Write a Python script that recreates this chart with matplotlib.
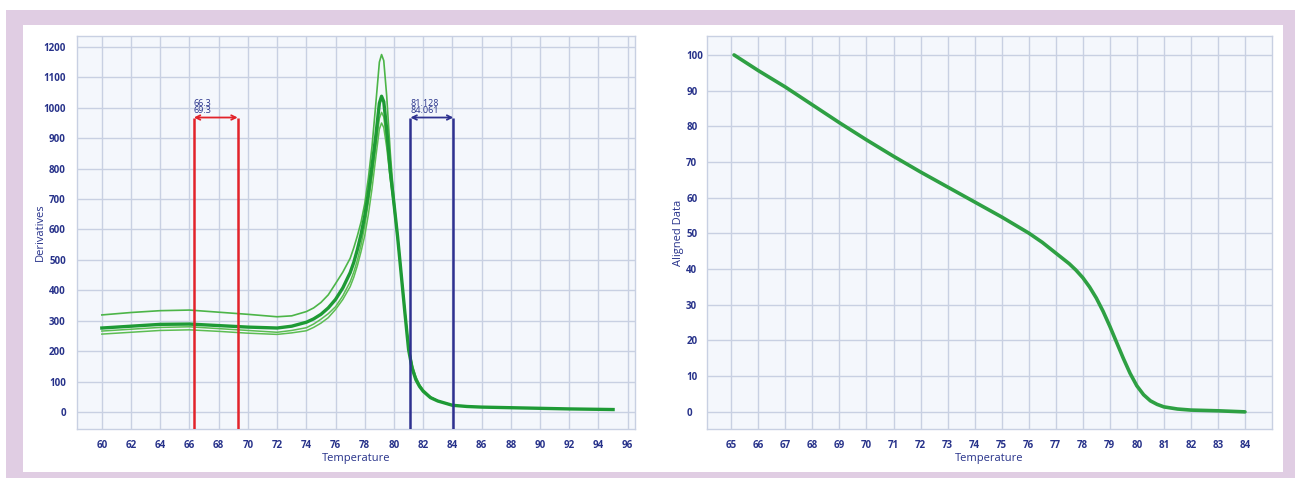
import matplotlib
matplotlib.use("Agg")
import matplotlib.pyplot as plt
from matplotlib.patches import Rectangle

# ---------------- data ----------------
temps = [60, 62, 64, 66, 68, 70, 72, 73, 74, 74.5, 75, 75.5, 76, 76.5, 77, 77.25,
         77.5, 77.75, 78, 78.25, 78.5, 78.75, 79.0, 79.15, 79.3, 79.5, 79.75, 80,
         80.25, 80.5, 80.75, 81, 81.25, 81.5, 81.75, 82, 82.5, 83, 84, 85, 86, 88,
         90, 92, 95]

deriv_a = [319, 327, 333, 335, 328, 321, 313, 316, 330, 342, 360, 385, 422, 460,
           505, 540, 580, 625, 685, 770, 875, 1010, 1150, 1175, 1155, 1040, 850, 695,
           580, 455, 330, 210, 145, 108, 85, 68, 48, 36, 22, 18, 16, 14, 12, 10, 8]
deriv_b = [276, 282, 288, 289, 284, 279, 276, 282, 295, 306, 321, 342, 370, 408,
           458, 492, 535, 585, 645, 720, 810, 905, 1015, 1038, 1020, 930, 790, 685,
           575, 450, 325, 205, 142, 106, 84, 68, 47, 36, 22, 18, 16, 14, 12, 10, 8]
deriv_c = [266, 272, 278, 280, 274, 268, 262, 268, 277, 289, 305, 323, 346, 382,
           428, 460, 500, 550, 612, 690, 775, 870, 965, 985, 970, 895, 775, 680,
           570, 450, 328, 212, 150, 112, 88, 71, 49, 37, 22, 18, 16, 14, 12, 10, 8]
deriv_d = [256, 262, 268, 270, 265, 259, 255, 260, 267, 278, 292, 310, 337, 370,
           412, 443, 482, 528, 580, 650, 735, 835, 930, 950, 935, 870, 765, 670,
           565, 448, 330, 218, 155, 116, 90, 73, 50, 37, 22, 18, 16, 14, 12, 10, 8]

red_bounds = [66.3, 69.3]
blue_bounds = [81.128, 84.061]
marker_level = 968

aligned_temps = [65.1, 66, 67, 68, 69, 70, 71, 72, 73, 74, 75, 76, 76.5, 77, 77.5,
                 77.75, 78, 78.25, 78.5, 78.75, 79, 79.25, 79.5, 79.75, 80, 80.25,
                 80.5, 80.75, 81, 81.5, 82, 83, 84]
aligned_vals = [100, 95.6, 91, 86, 81, 76.2, 71.6, 67.2, 63, 58.8, 54.6, 50.1,
                47.5, 44.5, 41.5, 39.7, 37.6, 35.0, 31.9, 28.2, 24.0, 19.5, 15.0,
                10.8, 7.3, 4.8, 3.1, 2.1, 1.4, 0.8, 0.5, 0.3, 0.0]

left_xticks = list(range(60, 97, 2))
left_yticks = list(range(0, 1201, 100))
right_xticks = list(range(65, 85))
right_yticks = list(range(0, 101, 10))

# ---------------- style ----------------
plt.rcParams['font.family'] = ['Open Sans', 'DejaVu Sans']
W, H = 1295, 478
NAVY = '#27328a'
GRID = '#c8d0e2'
FACE = '#f4f7fc'
PURPLE = '#e0cde3'

fig = plt.figure(figsize=(W / 100, H / 100), dpi=100)
fig.patch.set_facecolor('white')
fig.patches.append(Rectangle((6 / W, 0), 1289 / W, (H - 10) / H,
                             transform=fig.transFigure, facecolor=PURPLE,
                             edgecolor='none', zorder=-10))
fig.patches.append(Rectangle((23 / W, 6 / H), (1283 - 23) / W, (472 - 25) / H,
                             transform=fig.transFigure, facecolor='white',
                             edgecolor='none', zorder=-9))


def px_axes(left, top, right, bottom):
    return fig.add_axes([left / W, (H - bottom) / H, (right - left) / W,
                         (bottom - top) / H])


def style(ax):
    ax.set_facecolor(FACE)
    ax.grid(True, color=GRID, linewidth=1.0)
    ax.set_axisbelow(True)
    for s in ax.spines.values():
        s.set_color(GRID)
        s.set_linewidth(1.0)
    ax.tick_params(length=0, labelsize=7, labelcolor=NAVY)
    for lab in ax.get_xticklabels() + ax.get_yticklabels():
        lab.set_fontweight('bold')


# ---------------- left chart ----------------
ax1 = px_axes(77, 36, 635, 429)
ax1.set_xlim(58.3, 96.5)
ax1.set_ylim(-56, 1236)
ax1.set_xticks(left_xticks)
ax1.set_yticks(left_yticks)
style(ax1)
ax1.tick_params(axis='x', pad=8)
ax1.tick_params(axis='y', pad=8)

ax1.plot(temps, deriv_d, color='#5cbd52', lw=1.1, zorder=3)
ax1.plot(temps, deriv_c, color='#5cbd52', lw=1.1, zorder=3)
ax1.plot(temps, deriv_a, color='#4cb548', lw=1.2, zorder=3)
ax1.plot(temps, deriv_b, color='#1e9a35', lw=2.4, zorder=4)

ymin = ax1.get_ylim()[0]
for bounds, col in ((red_bounds, '#e2232a'), (blue_bounds, '#2e3190')):
    for b in bounds:
        ax1.plot([b, b], [ymin, marker_level], color=col, lw=1.8, zorder=5,
                 solid_capstyle='butt')
    ax1.annotate('', xy=(bounds[0], marker_level), xytext=(bounds[1], marker_level),
                 arrowprops=dict(arrowstyle='<->', color=col, lw=1.3,
                                 shrinkA=0, shrinkB=0, mutation_scale=8),
                 zorder=6)
    ax1.text(bounds[0], marker_level + 37, f"{bounds[0]:g}", color=NAVY,
             fontsize=6.5, ha='left', va='baseline', zorder=6)
    ax1.text(bounds[0], marker_level + 14, f"{bounds[1]:g}", color=NAVY,
             fontsize=6.5, ha='left', va='baseline', zorder=6)

ax1.set_xlabel('Temperature', fontsize=8, color=NAVY, labelpad=1)
ax1.set_ylabel('Derivatives', fontsize=8, color=NAVY)
ax1.yaxis.set_label_coords(-0.056, 0.5)

# ---------------- right chart ----------------
ax2 = px_axes(707, 36, 1272, 429)
ax2.set_xlim(64.1, 85.0)
ax2.set_ylim(-4.8, 105.3)
ax2.set_xticks(right_xticks)
ax2.set_yticks(right_yticks)
style(ax2)
ax2.tick_params(axis='x', pad=8)
ax2.tick_params(axis='y', pad=15)
for lab in ax2.get_yticklabels():
    lab.set_horizontalalignment('left')

ax2.plot(aligned_temps, aligned_vals, color='#2ea043', lw=2.6, zorder=3,
         solid_capstyle='round', solid_joinstyle='round')
ax2.set_xlabel('Temperature', fontsize=8, color=NAVY, labelpad=1)
ax2.set_ylabel('Aligned Data', fontsize=8, color=NAVY)
ax2.yaxis.set_label_coords(-0.040, 0.5)

fig.savefig('out.png', dpi=100, facecolor=fig.get_facecolor())
